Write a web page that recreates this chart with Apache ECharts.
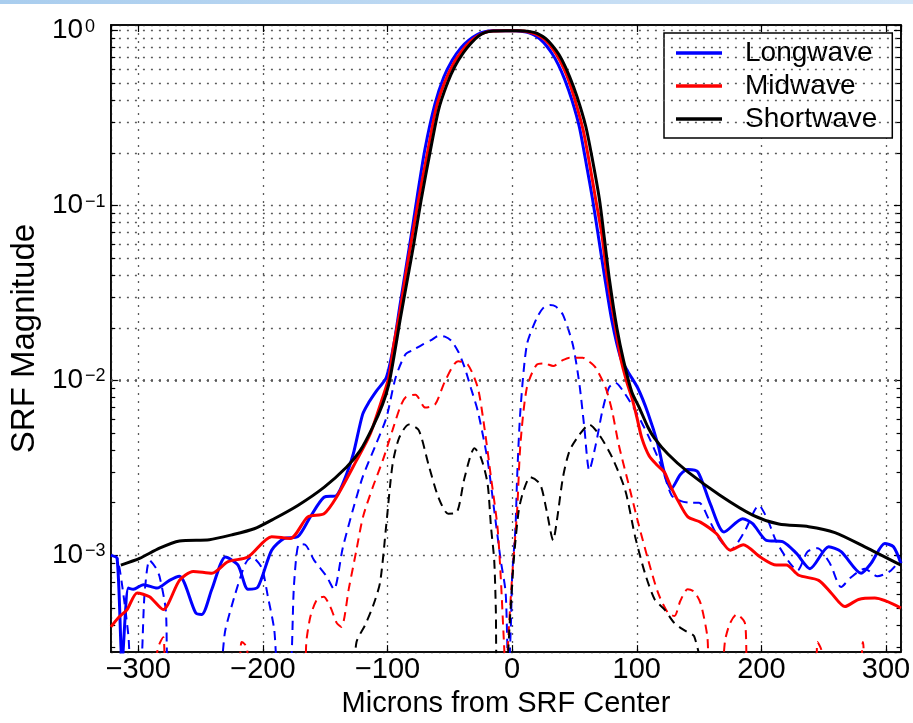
<!DOCTYPE html>
<html><head><meta charset="utf-8">
<script src="https://cdn.jsdelivr.net/npm/echarts@6/dist/echarts.min.js"></script>
<style>html,body{margin:0;padding:0;background:#fff}#c{width:913px;height:723px}</style>
</head><body><div id="c"></div>
<script>
// ---- axis ranges & ticks ----
const X_MIN = -322, X_MAX = 312;
const Y_MIN = 2.80e-4, Y_MAX = 1.077;
const yMinorTicks = [3e-4,4e-4,5e-4,6e-4,7e-4,8e-4,9e-4,
  2e-3,3e-3,4e-3,5e-3,6e-3,7e-3,8e-3,9e-3,
  2e-2,3e-2,4e-2,5e-2,6e-2,7e-2,8e-2,9e-2,
  0.2,0.3,0.4,0.5,0.6,0.7,0.8,0.9];
const seriesNames = ['Longwave','Midwave','Shortwave'];

// ---- Longwave solid ----
const lwX = [-322,-317,-313,-308,-304,-296,-285,-275,-267,-254,-249,-241,-230,-220,-212,-204,-193,-183,-172,-162,-151,-141,-133,-127.5,-120,-115,-109,-101,-95,-90,-85,-80,-76,-70,-62,-55,-48,-41,-35,-28,-22,-16,-8,3,8,13,18,25,32,37,42,48,54,60,64.5,69,74,80,87,93,101,109,117,122,127.6,135,141,149,159,170,185,193,204,217,228,239,254,264,280,288,299,306,312];
const lwY = [1.0e-3,9.6e-4,2.5e-4,6.5e-4,6.4e-4,6.8e-4,6.5e-4,7.2e-4,7.6e-4,4.7e-4,4.6e-4,6.4e-4,9.8e-4,8.8e-4,6.4e-4,6.6e-4,1.07e-3,1.25e-3,1.28e-3,1.66e-3,2.15e-3,2.2e-3,2.9e-3,3.8e-3,6.4e-3,7.5e-3,8.7e-3,0.0104,0.016,0.027,0.045,0.075,0.115,0.21,0.38,0.54,0.68,0.8,0.88,0.95,0.985,1.0,1.0,1.0,0.99,0.975,0.94,0.86,0.74,0.64,0.53,0.40,0.28,0.165,0.109,0.068,0.04,0.022,0.0135,0.0112,9e-3,6.5e-3,4.3e-3,3.0e-3,2.4e-3,2.9e-3,3.1e-3,3.0e-3,1.97e-3,1.36e-3,1.62e-3,1.52e-3,1.22e-3,1.2e-3,1.03e-3,8.4e-4,1.12e-3,1.05e-3,7.9e-4,9e-4,1.17e-3,1.12e-3,9e-4];

// ---- Midwave solid ----
const mwX = [-322,-316,-309,-301,-291,-280,-267,-256,-241,-228,-212,-193,-178,-164,-151,-141,-125,-114,-104,-99,-95,-90,-85,-80,-75,-68,-61,-54,-47,-40,-34,-28,-22,-16,-6,4,9,14,19,26,33,38,44,50,57,62,67,72,76,82,87,92,96,100,104,110,116,122,127,133,141,151,164,175,185.5,199,212,220,230,246,256,267,278,291,312];
const mwY = [3.9e-4,4.4e-4,4.9e-4,6.1e-4,5.8e-4,4.9e-4,7.2e-4,8.1e-4,7.9e-4,9.2e-4,9.8e-4,1.28e-3,1.25e-3,1.66e-3,1.73e-3,2.15e-3,3.48e-3,4.93e-3,7.97e-3,0.0104,0.016,0.025,0.042,0.068,0.109,0.2,0.36,0.51,0.65,0.77,0.86,0.93,0.975,0.995,1.0,1.0,0.995,0.98,0.955,0.89,0.78,0.68,0.55,0.41,0.27,0.175,0.109,0.068,0.04,0.022,0.0135,0.0098,8e-3,6.2e-3,4.7e-3,3.7e-3,3.3e-3,3.0e-3,2.5e-3,2.06e-3,1.66e-3,1.55e-3,1.33e-3,1.07e-3,1.15e-3,9.8e-4,8.8e-4,8.8e-4,7.7e-4,7.2e-4,6.1e-4,5.1e-4,5.6e-4,5.7e-4,5.0e-4];

// ---- Shortwave solid ----
const swX = [-314,-299,-283,-267,-243,-225,-207,-191,-172,-151,-133,-122,-112,-104,-99,-95,-90,-84,-79,-73,-66,-59,-52,-46,-39,-33,-27,-22,-15,-5,5,10,15,20,27,35,40,46,52,59,64,70,74,78,84,89.5,96,102,109,114,125,141,167,193,214,238,259,283,312];
const swY = [8.8e-4,9.6e-4,1.10e-3,1.21e-3,1.23e-3,1.31e-3,1.42e-3,1.62e-3,1.93e-3,2.45e-3,3.19e-3,3.97e-3,5.4e-3,7.3e-3,9.5e-3,0.0135,0.022,0.038,0.06,0.108,0.2,0.354,0.5,0.624,0.75,0.848,0.93,0.975,0.995,1.0,1.0,0.995,0.985,0.966,0.9,0.776,0.68,0.548,0.42,0.285,0.19,0.109,0.065,0.038,0.02,0.0129,8.6e-3,7e-3,5.4e-3,4.7e-3,3.8e-3,3.0e-3,2.2e-3,1.7e-3,1.51e-3,1.46e-3,1.35e-3,1.12e-3,8.8e-4];

// ---- Longwave dashed ----
const lwdX = [-322,-317,-312,-308,-305,-299,-295,-291,-286,-283,-278,-275,-238,-230,-222,-214,-209,-201,-196,-191,-187,-179,-175,-171,-166,-159,-149,-143,-136,-128,-120,-110,-101,-93.5,-85.6,-79,-72.3,-65,-59,-54,-48.6,-43,-38,-33,-27.6,-19.7,-14.4,-9.2,-5.2,-3,-1,0,2.7,4,6.6,11.8,19.7,25,30.3,35,40.8,48.7,54,57.9,61.9,67.1,72.4,77.7,82.9,90,100,110,120,128,135,143,150,158,166,175,186,198,205,212,223,229,237,245,255,264,272,283,293,303,312];
const lwdY = [1.0e-3,9.7e-4,6e-4,3.5e-4,2.0e-4,2.0e-4,6e-4,9.4e-4,8.5e-4,7.6e-4,4.9e-4,2.0e-4,2.0e-4,3.8e-4,6.1e-4,9e-4,9.8e-4,8.5e-4,5.8e-4,3.8e-4,2.0e-4,2.0e-4,6.9e-4,1.16e-3,1.15e-3,9.4e-4,7.6e-4,6.4e-4,1.1e-3,1.8e-3,2.8e-3,4.2e-3,6.1e-3,0.0104,0.0141,0.015,0.016,0.017,0.018,0.0178,0.0168,0.0145,0.0118,9e-3,6.7e-3,3.5e-3,1.81e-3,9.4e-4,6.1e-4,2.0e-4,4e-4,7.6e-4,1.46e-3,2.8e-3,6.7e-3,0.016,0.0227,0.026,0.027,0.0265,0.0237,0.016,9.5e-3,5.4e-3,3.06e-3,4.3e-3,6.7e-3,9.1e-3,9.7e-3,8.5e-3,6.5e-3,4.7e-3,3.2e-3,2.2e-3,2.05e-3,2.0e-3,2.0e-3,1.6e-3,1.25e-3,1.07e-3,1.35e-3,1.93e-3,1.6e-3,1.2e-3,9e-4,8.2e-4,1.05e-3,1.1e-3,9e-4,6.6e-4,7.5e-4,8.4e-4,7.6e-4,8.1e-4,9.5e-4];

// ---- Midwave dashed ----
const mwdX = [-322,-290,-284,-280,-276,-222,-217,-213,-210,-168,-165,-161.8,-156.6,-151.3,-146,-140.7,-137,-131,-125,-119.7,-111.8,-103.9,-96,-90,-85.6,-77.6,-69.7,-61.8,-53.9,-43.4,-35.5,-27.6,-22.3,-17,-11.8,-9.2,-6.6,-5,-2.6,0,4,6.6,11.8,19.7,26,32.9,40,46.1,56.6,62,67.1,75,80.2,85.5,93.4,101.3,109.2,117.1,125,130.2,135,140.8,146,151.3,156.6,159,167,171,174.9,180.2,186.8,190,243,245,248,250,277,281.5,285,312];
const mwdY = [2.0e-4,2.0e-4,3.0e-4,3.4e-4,2.0e-4,2.0e-4,3.2e-4,3.0e-4,2.0e-4,2.0e-4,3.3e-4,4.5e-4,5.6e-4,5.8e-4,5.1e-4,4.1e-4,3.9e-4,6.5e-4,1.07e-3,1.66e-3,2.46e-3,3.48e-3,5.2e-3,7e-3,8e-3,8.3e-3,7.0e-3,7.3e-3,9.9e-3,0.0129,0.0123,9.1e-3,5.4e-3,2.8e-3,1.46e-3,7.6e-4,3.2e-4,2.0e-4,3.9e-4,7.6e-4,1.81e-3,4.3e-3,9.1e-3,0.0123,0.0125,0.0121,0.013,0.0135,0.0135,0.0128,0.0118,9.1e-3,6.7e-3,4.3e-3,2.56e-3,1.52e-3,9.4e-4,6.1e-4,4.7e-4,4.5e-4,5.5e-4,6.4e-4,6.2e-4,5.3e-4,3.45e-4,2.0e-4,2.0e-4,3.3e-4,4.1e-4,4.6e-4,4.1e-4,2.0e-4,2.0e-4,3.2e-4,2.9e-4,2.0e-4,2.0e-4,3.2e-4,2.0e-4,2.0e-4];

// ---- Shortwave dashed ----
const swdX = [-127,-124.9,-118,-111.8,-106,-101,-96,-90.7,-82.9,-75,-67.1,-59.2,-51.3,-44.7,-38.1,-30.2,-24.9,-19.7,-17,-14.4,-13.1,-12,-6,-1.3,1.3,5.3,9.2,14.5,22.4,27.6,32.9,36,40.8,46.1,54,61.9,69.8,80.2,90.8,98.7,106.6,114.4,122.3,130.2,139,146,154];
const swdY = [2.0e-4,3.2e-4,4e-4,5.1e-4,7e-4,1.5e-3,3.3e-3,4.7e-3,5.6e-3,5.2e-3,3.3e-3,2.15e-3,1.73e-3,1.75e-3,2.8e-3,4.1e-3,3.6e-3,2.56e-3,1.46e-3,9.4e-4,4.9e-4,2.0e-4,2.0e-4,4.9e-4,9.4e-4,1.81e-3,2.35e-3,2.8e-3,2.56e-3,1.81e-3,1.22e-3,1.6e-3,2.8e-3,3.97e-3,4.9e-3,5.6e-3,4.9e-3,3.64e-3,2.35e-3,1.28e-3,7.9e-4,5.6e-4,4.9e-4,4.1e-4,3.7e-4,3.45e-4,2.0e-4];

const pairs = (xs, ys) => xs.map((x, i) => [x, ys[i]]);
const FONT = 'Liberation Sans';
const BLUE = '#0000ff', RED = '#ff0000', BLACK = '#000000';
const GRIDLINE = {color: '#5a5a5a', type: [2, 6], width: 1.3};

function solid(name, color, xs, ys) {
  return {name, type: 'line', data: pairs(xs, ys), showSymbol: false, symbol: 'none',
    smooth: 0.25, lineStyle: {color, width: 3}, itemStyle: {color}, z: 5, clip: true};
}
function dashed(name, color, xs, ys) {
  return {name, type: 'line', data: pairs(xs, ys), showSymbol: false, symbol: 'none',
    smooth: 0.25, lineStyle: {color, width: 2, type: [9, 6]}, itemStyle: {color}, z: 4, clip: true};
}

const tickLen = 3.5; // minor tick length in x-data units
const minorTickLines = [];
yMinorTicks.forEach(v => {
  minorTickLines.push([{coord: [X_MIN, v]}, {coord: [X_MIN + tickLen, v]}]);
  minorTickLines.push([{coord: [X_MAX, v]}, {coord: [X_MAX - tickLen, v]}]);
});

const yLabelFmt = v => {
  const l = Math.log10(v), e = Math.round(l);
  if (Math.abs(l - e) > 1e-6) return '';
  return '{b|10}{s|' + (e === 0 ? '0' : '\u2212' + (-e)) + '}';
};
const yRich = {
  b: {fontSize: 28, fontFamily: FONT, color: '#000', lineHeight: 28, padding: [13, 0, 13, 0]},
  s: {fontSize: 18, fontFamily: FONT, color: '#000', lineHeight: 18, verticalAlign: 'top', padding: [1, 0, 0, 2]}
};
const AXLINE = {show: true, onZero: false, lineStyle: {color: '#000', width: 1.5}};
const AXTICK = {show: true, inside: true, length: 7, lineStyle: {color: '#000', width: 1.2}};

const chart = echarts.init(document.getElementById('c'), null, {renderer: 'canvas'});
chart.setOption({
  animation: false,
  backgroundColor: '#fff',
  graphic: [{type: 'rect', left: 0, top: 0, shape: {width: 913, height: 4}, silent: true,
    style: {fill: new echarts.graphic.LinearGradient(0, 0, 1, 0, [{offset: 0, color: '#a9cdee'}, {offset: 1, color: '#d4e6f7'}])}}],
  grid: {left: 101, right: 9, top: 25, bottom: 67, show: true, borderColor: '#000', borderWidth: 1.5, backgroundColor: 'transparent'},
  legend: {
    data: seriesNames, orient: 'vertical', left: 664, top: 33,
    icon: 'rect', itemWidth: 46, itemHeight: 3.5,
    padding: [6, 15, 5, 12], itemGap: 5,
    borderColor: '#000', borderWidth: 1.5, backgroundColor: '#fff',
    textStyle: {fontSize: 28, fontFamily: FONT, color: '#000', padding: [0, 0, 0, 18]},
    selectedMode: false
  },
  xAxis: [{
    type: 'value', min: X_MIN, max: X_MAX, position: 'bottom', splitNumber: 6,
    name: 'Microns from SRF Center', nameLocation: 'middle', nameGap: 30,
    nameTextStyle: {fontSize: 29, fontFamily: FONT, color: '#000'},
    axisLine: AXLINE, axisTick: AXTICK,
    axisLabel: {fontSize: 29, fontFamily: FONT, color: '#000', margin: 3, showMinLabel: false, showMaxLabel: false,
      formatter: v => (v < 0 ? '\u2212' + (-v) : '' + v)},
    splitLine: {show: true, lineStyle: GRIDLINE}
  }, {
    type: 'value', min: X_MIN, max: X_MAX, position: 'top', splitNumber: 6,
    axisLine: AXLINE, axisTick: AXTICK,
    axisLabel: {show: false}, splitLine: {show: false}
  }],
  yAxis: [{
    type: 'log', logBase: 10, min: Y_MIN, max: Y_MAX, position: 'left',
    name: 'SRF Magnitude', nameLocation: 'middle', nameGap: 55, nameRotate: 90,
    nameTextStyle: {fontSize: 33, fontFamily: FONT, color: '#000'},
    axisLine: AXLINE, axisTick: AXTICK,
    axisLabel: {formatter: yLabelFmt, rich: yRich, align: 'left', margin: 59, showMinLabel: false, showMaxLabel: false},
    splitLine: {show: true, lineStyle: GRIDLINE}
  }, {
    type: 'log', logBase: 10, min: Y_MIN, max: Y_MAX, position: 'right',
    axisLine: AXLINE, axisTick: AXTICK,
    axisLabel: {show: false}, splitLine: {show: false}
  }],
  series: [
    {name: '_grid', type: 'line', data: [], symbol: 'none', z: 1, silent: true,
      markLine: {silent: true, symbol: ['none', 'none'], label: {show: false}, animation: false,
        lineStyle: GRIDLINE,
        data: yMinorTicks.map(v => ({yAxis: v})).concat(minorTickLines.map(seg => [
          Object.assign({lineStyle: {color: '#000', type: 'solid', width: 1.2}}, seg[0]), seg[1]]))}},
    dashed('Longwave dashed', BLUE, lwdX, lwdY),
    dashed('Midwave dashed', RED, mwdX, mwdY),
    dashed('Shortwave dashed', BLACK, swdX, swdY),
    solid('Longwave', BLUE, lwX, lwY),
    solid('Midwave', RED, mwX, mwY),
    solid('Shortwave', BLACK, swX, swY)
  ]
});
</script></body></html>
